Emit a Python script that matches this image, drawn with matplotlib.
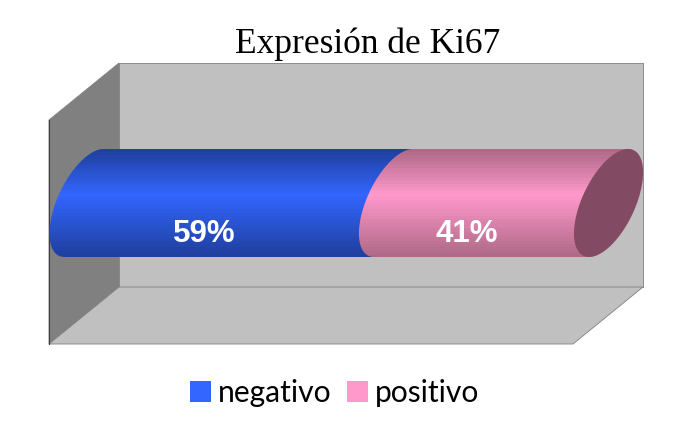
import numpy as np
import matplotlib
matplotlib.use("Agg")
import matplotlib.pyplot as plt
from matplotlib.patches import Polygon, Patch
from matplotlib.colors import LinearSegmentedColormap

categories = ["negativo", "positivo"]
values = [59, 41]
value_labels = ["59%", "41%"]
title = "Expresión de Ki67"
colors = ["#3366FF", "#FF99CC"]
dark_colors = ["#20409F", "#B06A88"]
cap_color = "#834A63"

W, H = 697, 427
fig = plt.figure(figsize=(W / 100, H / 100), dpi=100, facecolor="white")
ax = fig.add_axes([0, 0, 1, 1])
ax.set_xlim(0, W)
ax.set_ylim(H - 1, -1)
ax.axis("off")

# 3-D box
edge = "#808080"
ax.add_patch(Polygon([(119, 63), (643, 63), (643, 287), (119, 287)], fc="#C0C0C0", ec=edge, lw=0.6, zorder=1))
ax.add_patch(Polygon([(49, 120), (119, 63), (119, 287), (49, 344)], fc="#808080", ec=edge, lw=0.6, zorder=2))
ax.add_patch(Polygon([(49, 344), (119, 287), (643, 287), (573, 344)], fc="#C0C0C0", ec=edge, lw=0.6, zorder=2))
ax.plot([49, 49], [120, 344], color="#404040", lw=0.8, zorder=3)

# cylinder geometry
x_start, x_end = 84.0, 608.5
y_mid, half_h = 203.0, 54.0
shear, half_w = 19.5, 28.5


def to_x(v):
    return x_start + (x_end - x_start) * v / sum(values)


def arc(cx, t0, t1):
    t = np.radians(np.linspace(t0, t1, 80))
    return np.column_stack([cx + half_w * np.cos(t) + shear * np.sin(t), y_mid - half_h * np.sin(t)])


cum = np.concatenate([[0], np.cumsum(values)])
label_x = [204, 467]
for i, color in enumerate(colors):
    left, right = to_x(cum[i]), to_x(cum[i + 1])
    outline = np.vstack([arc(left, 90, 270), arc(right, 270, 450)])
    clip = Polygon(outline, fc="none", ec="none", transform=ax.transData)
    ax.add_patch(clip)
    cmap = LinearSegmentedColormap.from_list("c", [dark_colors[i], color, dark_colors[i]])
    # banded shading: single bright band a little above the middle
    pos = np.linspace(0, 1, 34)
    shade = np.interp(pos, [0, 0.42, 1], [0, 0.5, 1])[:, None]
    img = ax.imshow(shade, extent=(left - 60, right + 60, y_mid + half_h, y_mid - half_h), aspect="auto",
                    cmap=cmap, vmin=0, vmax=1, zorder=4 + i, interpolation="nearest")
    img.set_clip_path(clip)
    ax.text(label_x[i], 233, value_labels[i], color="white", fontsize=22.5, fontweight="bold",
            family="Liberation Sans", ha="center", va="center", zorder=8)

ax.add_patch(Polygon(arc(to_x(sum(values)), 0, 360), fc=cap_color, ec="none", zorder=7))
ax.set_xlim(0, W)
ax.set_ylim(H - 1, -1)

ax.text(368, 43, title, family="Liberation Serif", fontsize=25.5, color="black", ha="center", va="center", zorder=9)

handles = [Patch(fc=c, ec="none") for c in colors]
ax.legend(handles, categories, ncol=2, frameon=False, loc="center", bbox_to_anchor=(334.5 / W, 1 - 393.5 / H),
          prop={"family": "Lato", "size": 21.6}, handlelength=0.7, handleheight=0.7, handletextpad=0.24,
          columnspacing=0.5, borderpad=0, borderaxespad=0)

fig.savefig("out.png", dpi=100, facecolor="white")
